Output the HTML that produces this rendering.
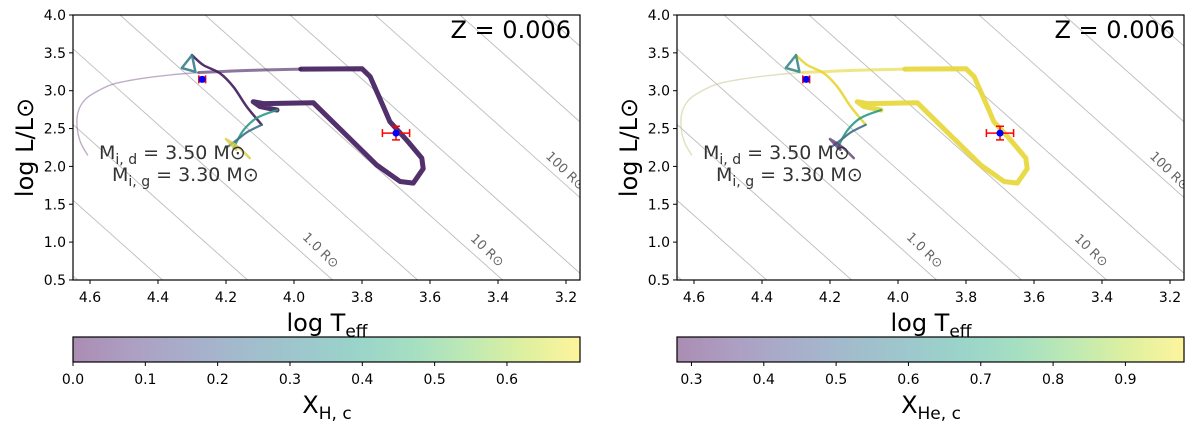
<!DOCTYPE html>
<html><head><meta charset="utf-8"><style>
body{margin:0;background:#fff;}
svg{display:block;font-family:"DejaVu Sans","Liberation Sans",sans-serif;}
</style></head><body>
<svg id="fig" width="1200" height="429" viewBox="0 0 1200 429" xmlns="http://www.w3.org/2000/svg"></svg>
<script>
// ---- data ----
const xTicks = [4.6, 4.4, 4.2, 4.0, 3.8, 3.6, 3.4, 3.2];
const yTicks = [0.5, 1.0, 1.5, 2.0, 2.5, 3.0, 3.5, 4.0];
const radiusLogR = [-1.5, -1.0, -0.5, 0, 0.5, 1.0, 1.5, 2.0, 2.5, 3.0];
const radiusLabels = ["1.0 R⊙", "10 R⊙", "100 R⊙"];
const radiusLabelT = [3.93, 3.44, 3.21];
const radiusLabelL = [0.85, 0.85, 1.9];
// track segments (logTeff, logL)
const segThinT = [4.607, 4.628, 4.638, 4.635, 4.615, 4.58, 4.53, 4.45, 4.36, 4.28];
const segThinL = [2.15, 2.32, 2.52, 2.72, 2.88, 2.99, 3.09, 3.16, 3.21, 3.24];
const segMidT = [4.28, 4.18, 4.08, 3.98];
const segMidL = [3.24, 3.26, 3.275, 3.285];
const segGiantT = [3.98, 3.80, 3.776, 3.737, 3.718, 3.669, 3.624, 3.62, 3.649, 3.688, 3.757, 3.943, 4.09, 4.12, 4.10, 4.05];
const segGiantL = [3.285, 3.29, 3.185, 2.79, 2.59, 2.35, 2.11, 1.97, 1.78, 1.80, 2.02, 2.84, 2.83, 2.855, 2.79, 2.745];
const segPeakT = [4.30, 4.267, 4.218, 4.178, 4.139, 4.095];
const segPeakL = [3.47, 3.34, 3.23, 3.05, 2.79, 2.55];
const segLoopT = [4.30, 4.33, 4.29, 4.30];
const segLoopL = [3.47, 3.30, 3.25, 3.47];
const segG1T = [4.178, 4.15, 4.11, 4.05];
const segG1L = [2.24, 2.47, 2.64, 2.745];
const segG2T = [4.195, 4.165, 4.135, 4.095];
const segG2L = [2.26, 2.36, 2.46, 2.55];
const segEndT = [4.20, 4.17, 4.18, 4.20, 4.165, 4.13];
const segEndL = [2.36, 2.22, 2.30, 2.36, 2.26, 2.11];
// observations
const obsT = [4.27, 3.70];
const obsL = [3.15, 2.44];
const obsTerr = [0.01, 0.04];
const obsLerr = [0.03, 0.09];
// colorbars
const cb1Ticks = [0.0, 0.1, 0.2, 0.3, 0.4, 0.5, 0.6];
const cb1Range = [0.0, 0.701];
const cb2Ticks = [0.3, 0.4, 0.5, 0.6, 0.7, 0.8, 0.9];
const cb2Range = [0.280, 0.981];

const NS = "http://www.w3.org/2000/svg";
const svg = document.getElementById('fig');
function el(tag, attrs, parent) {
  const e = document.createElementNS(NS, tag);
  for (const k in attrs) e.setAttribute(k, attrs[k]);
  (parent || svg).appendChild(e);
  return e;
}
const viridis = ["#440154","#482878","#3e4989","#31688e","#26828e","#1f9e89","#35b779","#6ece58","#b5de2b","#fde725"];

function smooth(pts) {
  let d = 'M' + pts[0][0].toFixed(1) + ' ' + pts[0][1].toFixed(1);
  for (let i = 0; i < pts.length - 1; i++) {
    const p0 = pts[Math.max(0, i - 1)], p1 = pts[i], p2 = pts[i + 1], p3 = pts[Math.min(pts.length - 1, i + 2)];
    const c1 = [p1[0] + (p2[0] - p0[0]) / 6, p1[1] + (p2[1] - p0[1]) / 6];
    const c2 = [p2[0] - (p3[0] - p1[0]) / 6, p2[1] - (p3[1] - p1[1]) / 6];
    d += ` C${c1[0].toFixed(1)} ${c1[1].toFixed(1)} ${c2[0].toFixed(1)} ${c2[1].toFixed(1)} ${p2[0].toFixed(1)} ${p2[1].toFixed(1)}`;
  }
  return d;
}

function panel(ox, idx, cbTicks, cbRange, cbLabel, colors) {
  const L0 = ox + 73, R0 = ox + 580, T0 = 15, B0 = 280;
  const xs = v => ox + 90 + (4.6 - v) * 340;
  const ys = v => T0 + (4.0 - v) * 75.7;
  const g = el('g', {});
  
  
  const cid = 'clip' + idx;
  const cp = el('clipPath', {id: cid}, g);
  el('rect', {x: L0, y: T0, width: R0 - L0, height: B0 - T0}, cp);
  const plot = el('g', {'clip-path': 'url(#' + cid + ')'}, g);
  radiusLogR.forEach(r => {
    const Ta = 3.7617 + (4.3 - 2 * r) / 4, Tb = 3.7617 + (0.2 - 2 * r) / 4;
    const ln = el('line', {x1: xs(Ta), y1: ys(4.3), x2: xs(Tb), y2: ys(0.2), stroke: '#bdbdbd', 'stroke-width': 0.9}, plot);
    
    
  });
  radiusLabels.forEach((t, i) => {
    const tx = el('text', {x: xs(radiusLabelT[i]), y: ys(radiusLabelL[i]), 'font-size': 13, fill: '#666', 'text-anchor': 'middle', transform: `rotate(44 ${xs(radiusLabelT[i])} ${ys(radiusLabelL[i])})`}, plot);
    tx.textContent = t;
    
    
  });
  function path(Ts, Ls, color, w, op, name, sm) {
    const pts = Ts.map((t, i) => [xs(t), ys(Ls[i])]);
    const d = sm ? smooth(pts) : pts.map((p, i) => (i ? 'L' : 'M') + p[0].toFixed(1) + ' ' + p[1].toFixed(1)).join(' ');
    const p = el('path', {d: d, fill: 'none', stroke: color, 'stroke-width': w, 'stroke-opacity': op, 'stroke-linejoin': 'round', 'stroke-linecap': 'round'}, plot);
    
    
  }
  path(segThinT, segThinL, colors.thin, 1.4, 0.55, 'track-pre-ms', true);
  path(segMidT, segMidL, colors.main, 3, 0.6, 'track-main-sequence', true);
  path(segGiantT, segGiantL, colors.main, 5, 0.9, 'track-giant-branch', false);
  path(segPeakT, segPeakL, colors.main, 2.5, 0.9, 'track-descent', true);
  path(segLoopT, segLoopL, colors.loop, 2.5, 0.9, 'track-loop', false);
  path(segG1T, segG1L, colors.green, 2.2, 0.9, 'track-green-1', true);
  path(segG2T, segG2L, colors.green2, 2.2, 0.9, 'track-green-2', true);
  path(segEndT, segEndL, colors.end, 2.5, 0.8, 'track-end', true);
  obsT.forEach((t, i) => {
    const cx = xs(t), cy = ys(obsL[i]);
    const x1 = xs(t + obsTerr[i]), x2 = xs(t - obsTerr[i]);
    const y1 = ys(obsL[i] + obsLerr[i]), y2 = ys(obsL[i] - obsLerr[i]);
    const og = el('g', {stroke: '#f00', 'stroke-width': 1.5}, plot);
    
    
    el('line', {x1: x1, y1: cy, x2: x2, y2: cy}, og);
    el('line', {x1: cx, y1: y1, x2: cx, y2: y2}, og);
    el('line', {x1: x1, y1: cy - 4, x2: x1, y2: cy + 4}, og);
    el('line', {x1: x2, y1: cy - 4, x2: x2, y2: cy + 4}, og);
    el('line', {x1: cx - 4, y1: y1, x2: cx + 4, y2: y1}, og);
    el('line', {x1: cx - 4, y1: y2, x2: cx + 4, y2: y2}, og);
    el('circle', {cx: cx, cy: cy, r: 3.5, fill: '#00f', stroke: 'none'}, og);
  });
  const fr = el('rect', {x: L0, y: T0, width: R0 - L0, height: B0 - T0, fill: 'none', stroke: '#000', 'stroke-width': 1.2}, g);
  
  
  xTicks.forEach(v => {
    el('line', {x1: xs(v), y1: B0, x2: xs(v), y2: B0 + 4, stroke: '#000'}, g);
    const t = el('text', {x: xs(v), y: B0 + 22, 'font-size': 14, 'text-anchor': 'middle'}, g);
    t.textContent = v.toFixed(1);
    
    
  });
  yTicks.forEach(v => {
    el('line', {x1: L0 - 4, y1: ys(v), x2: L0, y2: ys(v), stroke: '#000'}, g);
    const t = el('text', {x: L0 - 7, y: ys(v) + 5, 'font-size': 14, 'text-anchor': 'end'}, g);
    t.textContent = v.toFixed(1);
    
    
  });
  const xl = el('text', {x: ox + 327, y: B0 + 51, 'font-size': 24, 'text-anchor': 'middle'}, g);
  xl.innerHTML = 'log T<tspan font-size="17" dy="6">eff</tspan>';
  
  
  const yl = el('text', {x: 0, y: 0, 'font-size': 24, 'text-anchor': 'middle', transform: `translate(${ox + 33} ${(T0 + B0) / 2}) rotate(-90)`}, g);
  yl.textContent = 'log L/L⊙';
  
  
  const zt = el('text', {x: R0 - 9, y: 38, 'font-size': 24, 'text-anchor': 'end'}, g);
  zt.textContent = 'Z = 0.006';
  
  
  const a1 = el('text', {x: ox + 99, y: 159, 'font-size': 19, fill: '#333'}, g);
  a1.innerHTML = 'M<tspan font-size="14" dy="5">i, d</tspan><tspan dy="-5"> = 3.50 M⊙</tspan>';
  
  
  const a2 = el('text', {x: ox + 112, y: 181, 'font-size': 19, fill: '#333'}, g);
  a2.innerHTML = 'M<tspan font-size="14" dy="5">i, g</tspan><tspan dy="-5"> = 3.30 M⊙</tspan>';
  
  
  const cbT = 337, cbB = 362;
  const gid = 'grad' + idx;
  const lg = el('linearGradient', {id: gid, x1: 0, x2: 1, y1: 0, y2: 0}, g);
  viridis.forEach((c, i) => el('stop', {offset: i / (viridis.length - 1), 'stop-color': c, 'stop-opacity': 0.45}, lg));
  const cb = el('rect', {x: L0, y: cbT, width: R0 - L0, height: cbB - cbT, fill: 'url(#' + gid + ')', stroke: '#000', 'stroke-width': 1.2}, g);
  
  
  const cs = v => L0 + (v - cbRange[0]) / (cbRange[1] - cbRange[0]) * (R0 - L0);
  cbTicks.forEach(v => {
    el('line', {x1: cs(v), y1: cbB, x2: cs(v), y2: cbB + 4, stroke: '#000'}, g);
    const t = el('text', {x: cs(v), y: cbB + 22, 'font-size': 14, 'text-anchor': 'middle'}, g);
    t.textContent = v.toFixed(1);
    
    
  });
  const cl = el('text', {x: ox + 327, y: 413, 'font-size': 24, 'text-anchor': 'middle'}, g);
  cl.innerHTML = 'X<tspan font-size="17" dy="6">' + cbLabel + '</tspan>';
  
  
}
panel(0, 1, cb1Ticks, cb1Range, 'H, c', {thin: '#8a6a9a', main: '#3f1a5c', loop: '#3a7d8c', green: '#2a9a85', green2: '#3d6f8a', end: '#d6cc40'});
panel(604, 2, cb2Ticks, cb2Range, 'He, c', {thin: '#c9c48a', main: '#e6d635', loop: '#3a8a88', green: '#2a9a85', green2: '#3d6f8a', end: '#5a3a74'});
</script>
</body></html>
